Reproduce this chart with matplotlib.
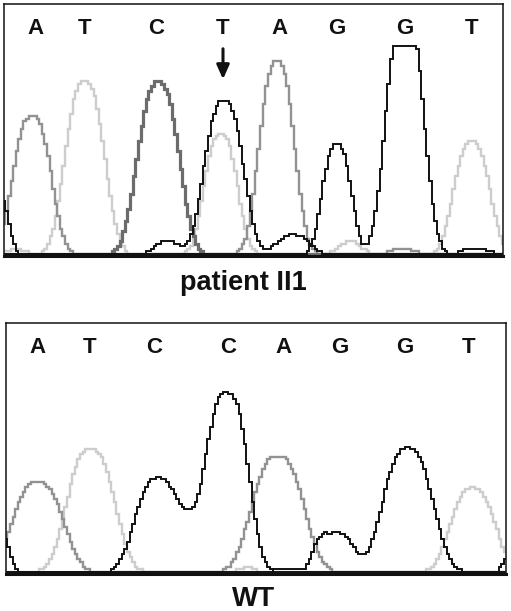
import numpy as np
import matplotlib
matplotlib.use("Agg")
import matplotlib.pyplot as plt

# ---------------- data (peak centre x, height, width) ----------------
bases_top = ["A", "T", "C", "T", "A", "G", "G", "T"]
base_x_top = [35, 85, 156, 223, 280, 337, 405, 472]
bases_wt = ["A", "T", "C", "C", "A", "G", "G", "T"]
base_x_wt = [37, 90, 154, 228, 283, 340, 405, 469]

# patient II1 traces
top_A_pos = [32, 277, 402]
top_A_h = [139, 193, 6]
top_A_w = [18.5, 17, 12]
top_T_pos = [15, 85, 221, 350, 472]
top_T_h = [5, 174, 121, 13, 113]
top_T_w = [12, 19, 16, 12, 17.5]
top_C_pos = [158]
top_C_h = [173]
top_C_w = [20]
top_K_pos = [167, 224, 293]
top_K_h = [13, 154, 20]
top_K_w = [13, 19, 16]
top_G_pos = [-2, 337, 405, 475]
top_G_h = [60, 111, 249, 7]
top_G_w = [10, 14, 18, 13]
top_clip = 209

# WT traces
wt_A_pos = [38, 278]
wt_A_h = [91, 117]
wt_A_w = [24.5, 25]
wt_T_pos = [91, 247, 473]
wt_T_h = [124, 5, 85]
wt_T_w = [23, 9, 21.5]
wt_C_pos = [158, 200, 229]
wt_C_h = [95, 38, 178]
wt_C_w = [22, 14, 19]
wt_G_pos = [-2, 285, 318, 337, 408, 512]
wt_G_h = [45, 4, 12, 40, 125, 20]
wt_G_w = [10, 12, 7, 17, 24, 8]

col_A = "#929292"
col_T = "#cdcdcd"
col_C_top = "#6c6c6c"
col_C_wt = "#111111"
col_G = "#111111"

W, H = 511, 611
fig = plt.figure(figsize=(W / 100, H / 100), dpi=100)
plt.rcParams['font.family'] = ['Liberation Sans', 'DejaVu Sans']


def trace(ax, xs, pos, h, w, color, lw, clip=None):
    y = np.zeros_like(xs)
    for p, hh, ww in zip(pos, h, w):
        y = y + hh * np.exp(-0.5 * np.abs((xs - p) / ww) ** 2.6)
    y = y + 1.5
    if clip is not None:
        y = np.minimum(y, clip)
    y = np.round(y / 2.5) * 2.5
    ax.plot(xs, y, drawstyle="steps-mid", color=color, lw=lw, solid_joinstyle="miter")


def make_axes(x0, x1, y0, y1):
    ax = fig.add_axes([x0 / W, 1 - y1 / H, (x1 - x0) / W, (y1 - y0) / H])
    ax.set_xlim(x0, x1)
    ax.set_ylim(0, y1 - y0)
    ax.set_xticks([])
    ax.set_yticks([])
    for s in ax.spines.values():
        s.set_linewidth(1.1)
        s.set_color("#111111")
    ax.spines["bottom"].set_linewidth(2.2)
    return ax


# ---------------- top panel ----------------
ax1 = make_axes(4, 503, 4, 256)
xs1 = np.arange(4, 504, 2.6)
trace(ax1, xs1, top_T_pos, top_T_h, top_T_w, col_T, 1.7)
trace(ax1, xs1, top_A_pos, top_A_h, top_A_w, col_A, 1.7)
trace(ax1, xs1, top_C_pos, top_C_h, top_C_w, col_C_top, 2.3)
trace(ax1, xs1, top_K_pos, top_K_h, top_K_w, col_G, 1.4)
trace(ax1, xs1, top_G_pos, top_G_h, top_G_w, col_G, 1.4, clip=top_clip)
for b, x in zip(bases_top, base_x_top):
    ax1.text(x, 256 - 34, b, ha="center", va="baseline", fontsize=16,
             fontweight="bold", color="#111111")
ax1.annotate("", xy=(223, 256 - 82), xytext=(223, 256 - 46),
             arrowprops=dict(arrowstyle="-|>,head_width=0.38,head_length=0.85",
                             color="#111111", lw=2.2))

fig.text(243 / W, 1 - 290 / H, "patient II1", ha="center", va="baseline",
         fontsize=19.5, fontweight="bold", color="#111111")

# ---------------- WT panel ----------------
ax2 = make_axes(6, 506, 323, 574)
xs2 = np.arange(6, 507, 2.6)
trace(ax2, xs2, wt_T_pos, wt_T_h, wt_T_w, col_T, 1.7)
trace(ax2, xs2, wt_A_pos, wt_A_h, wt_A_w, col_A, 1.7)
trace(ax2, xs2, wt_G_pos, wt_G_h, wt_G_w, col_G, 1.4)
trace(ax2, xs2, wt_C_pos, wt_C_h, wt_C_w, col_C_wt, 1.4)
for b, x in zip(bases_wt, base_x_wt):
    ax2.text(x, 574 - 353, b, ha="center", va="baseline", fontsize=16,
             fontweight="bold", color="#111111")

fig.text(254 / W, 1 - 606 / H, "WT", ha="center", va="baseline",
         fontsize=20, fontweight="bold", color="#111111")

fig.savefig("out.png", dpi=100)
